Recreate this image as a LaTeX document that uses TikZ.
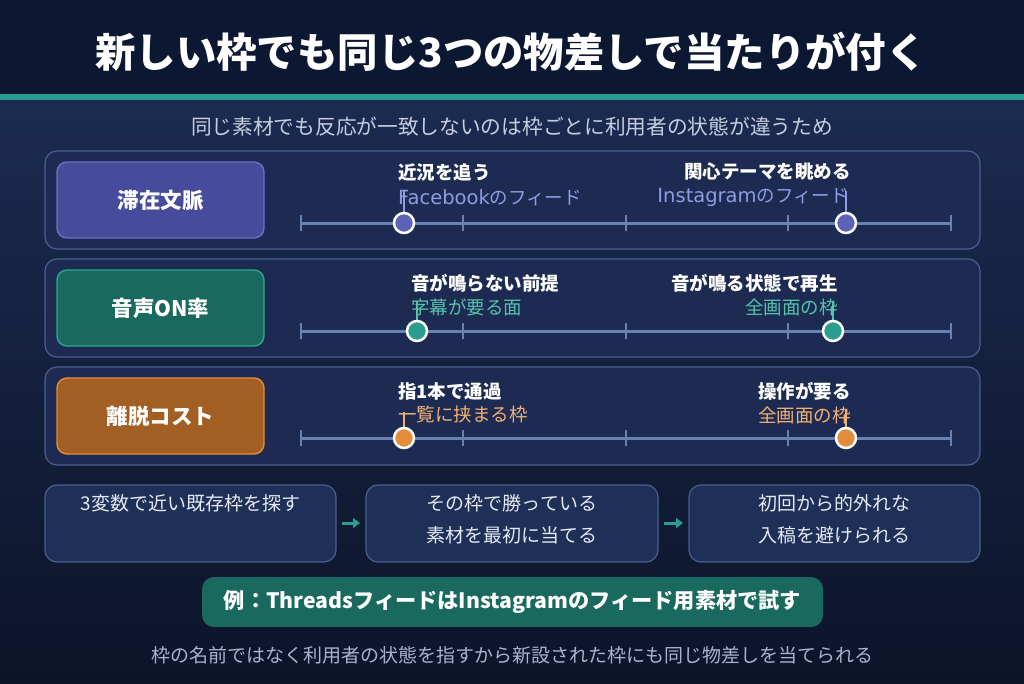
\documentclass[tikz,border=0pt]{standalone}
\usepackage{fontspec}
\setmainfont{Noto Sans CJK JP}
\newfontfamily\latinf{DejaVu Sans}
\usetikzlibrary{arrows.meta}
\definecolor{topbg}{HTML}{0C1731}
\definecolor{bgtop}{HTML}{1B2B50}
\definecolor{bgbot}{HTML}{0C1429}
\definecolor{tealline}{HTML}{2A9D8F}
\definecolor{panelbg}{HTML}{1D2B52}
\definecolor{panelbd}{HTML}{4B5E8E}
\definecolor{axiscol}{HTML}{6A82B2}
\definecolor{indfill}{HTML}{464B9B}
\definecolor{indbd}{HTML}{6A72C4}
\definecolor{inddot}{HTML}{5B62B8}
\definecolor{indtxt}{HTML}{8E9CE2}
\definecolor{tealfill}{HTML}{1A695E}
\definecolor{tealbd}{HTML}{2FA592}
\definecolor{tealdot}{HTML}{2A9D8F}
\definecolor{tealtxt}{HTML}{55C3AC}
\definecolor{orfill}{HTML}{A15F24}
\definecolor{orbd}{HTML}{E38C3C}
\definecolor{ordot}{HTML}{E38C3C}
\definecolor{ortxt}{HTML}{F2B173}
\definecolor{subcol}{HTML}{C5CEE0}
\definecolor{footcol}{HTML}{A9B4CA}
\definecolor{stepfill}{HTML}{1F3058}
\definecolor{steptxt}{HTML}{E4E9F3}
\newcommand{\lat}[1]{{\latinf\fontsize{19.5}{20}\selectfont #1}}
\tikzset{
  panel/.style={draw=panelbd, fill=panelbg, rounded corners=12pt, line width=1.2pt},
  lblbox/.style={rounded corners=10pt, line width=1.4pt, minimum width=207pt, minimum height=76pt,
    text=white, font=\fontsize{21.5}{24}\selectfont\bfseries},
  axisline/.style={draw=axiscol, line width=3pt},
  tickline/.style={draw=axiscol, line width=1.3pt},
  dot/.style={circle, draw=white, line width=2.5pt, minimum size=20pt, inner sep=0pt},
  headtxt/.style={text=white, font=\fontsize{18.5}{20}\selectfont\bfseries, inner sep=0pt},
  subtxt/.style={font=\fontsize{18.5}{20}\selectfont, inner sep=0pt},
  stem/.style={line width=2pt},
  stepbox/.style={draw=panelbd, fill=stepfill, rounded corners=12pt, line width=1.2pt},
  steptext/.style={text=steptxt, font=\fontsize{19}{32}\selectfont, align=center, inner sep=0pt},
  flowarr/.style={draw=tealline, line width=3pt, -{Triangle[length=7pt,width=10pt]}, shorten <=6pt, shorten >=6pt},
}
\begin{document}
\begin{tikzpicture}[x=1pt,y=-1pt]
\useasboundingbox (0,0) rectangle (1024,683);
\shade[top color=bgtop, bottom color=bgbot] (0,99) rectangle (1024,683);
\fill[topbg] (0,0) rectangle (1024,94);
\fill[tealline] (0,94) rectangle (1024,100);
\node[text=white, font=\fontsize{40.4}{44}\selectfont\bfseries] (title) at (511,52) {新しい枠でも同じ3つの物差しで当たりが付く};
\node[text=subcol, font=\fontsize{20.7}{24}\selectfont] (subtitle) at (512,127) {同じ素材でも反応が一致しないのは枠ごとに利用者の状態が違うため};

% panels
\draw[panel] (45,151) rectangle (980,249);
\draw[panel] (45,259) rectangle (980,357);
\draw[panel] (45,367) rectangle (980,465);

% label boxes
\node[lblbox, fill=indfill, draw=indbd] (l1) at (160.5,200) {滞在文脈};
\node[lblbox, fill=tealfill, draw=tealbd] (l2) at (160.5,308) {音声ON率};
\node[lblbox, fill=orfill, draw=orbd] (l3) at (160.5,416) {離脱コスト};

% axes
\foreach \r/\y in {1/223, 2/331, 3/438} {
  \coordinate (a\r s) at (301,\y);
  \coordinate (a\r e) at (951,\y);
  \draw[axisline] (a\r s) -- (a\r e);
  \foreach \x in {301,463,626,788,951}
    \draw[tickline] (\x,\y-8) -- (\x,\y+8);
}

% row 1
\node[headtxt, anchor=west] (h1a) at (398,172) {近況を追う};
\node[subtxt, text=indtxt, anchor=west] (s1a) at (398,198) {\lat{Facebook}のフィード};
\node[headtxt, anchor=east] (h1b) at (851,172) {関心テーマを眺める};
\node[subtxt, text=indtxt, anchor=east] (s1b) at (849,197) {\lat{Instagram}のフィード};
\coordinate (st1a) at (404,190);
\coordinate (st1b) at (846,191);
\draw[stem, indtxt] (404,223) -- (st1a);
\draw[stem, indtxt] (846,223) -- (st1b);
\node[dot, fill=inddot] (d1a) at (404,223) {};
\node[dot, fill=inddot] (d1b) at (846,223) {};

% row 2
\node[headtxt, anchor=west] (h2a) at (411,283) {音が鳴らない前提};
\node[subtxt, text=tealtxt, anchor=west] (s2a) at (411,307) {字幕が要る面};
\node[headtxt, anchor=east] (h2b) at (838,283) {音が鳴る状態で再生};
\node[subtxt, text=tealtxt, anchor=east] (s2b) at (838,307) {全画面の枠};
\coordinate (st2a) at (417,301);
\coordinate (st2b) at (833,301);
\draw[stem, tealtxt] (417,331) -- (st2a);
\draw[stem, tealtxt] (833,331) -- (st2b);
\node[dot, fill=tealdot] (d2a) at (417,331) {};
\node[dot, fill=tealdot] (d2b) at (833,331) {};

% row 3
\node[headtxt, anchor=west] (h3a) at (398,391) {指1本で通過};
\node[subtxt, text=ortxt, anchor=west] (s3a) at (398,415) {一覧に挟まる枠};
\node[headtxt, anchor=east] (h3b) at (851,391) {操作が要る};
\node[subtxt, text=ortxt, anchor=east] (s3b) at (851,415) {全画面の枠};
\coordinate (st3a) at (404,412);
\coordinate (st3b) at (846,410);
\draw[stem, ortxt] (404,438) -- (st3a);
\draw[stem, ortxt] (846,438) -- (st3b);
\node[dot, fill=ordot] (d3a) at (404,438) {};
\node[dot, fill=ordot] (d3b) at (846,438) {};

% steps
\draw[stepbox] (45,485) rectangle (336,562);
\draw[stepbox] (366,485) rectangle (658,562);
\draw[stepbox] (689,485) rectangle (980,562);
\coordinate (b1e) at (336,523);
\coordinate (b2w) at (366,523);
\coordinate (b2e) at (658,523);
\coordinate (b3w) at (689,523);
\node[steptext, anchor=north] (b1) at (190.5,494.5) {3変数で近い既存枠を探す};
\node[steptext, anchor=north] (b2) at (512,494.5) {その枠で勝っている\\素材を最初に当てる};
\node[steptext, anchor=north] (b3) at (834.5,494.5) {初回から的外れな\\入稿を避けられる};
\draw[flowarr] (b1e) -- (b2w);
\draw[flowarr] (b2e) -- (b3w);

% example
\node[fill=tealfill, rounded corners=12pt, minimum width=621pt, minimum height=50pt, text=white,
  font=\fontsize{21.2}{24}\selectfont\bfseries] (ex) at (512.5,602) {例：ThreadsフィードはInstagramのフィード用素材で試す};

\node[text=footcol, font=\fontsize{19}{22}\selectfont] (foot) at (512,655) {枠の名前ではなく利用者の状態を指すから新設された枠にも同じ物差しを当てられる};
\end{tikzpicture}
\end{document}
